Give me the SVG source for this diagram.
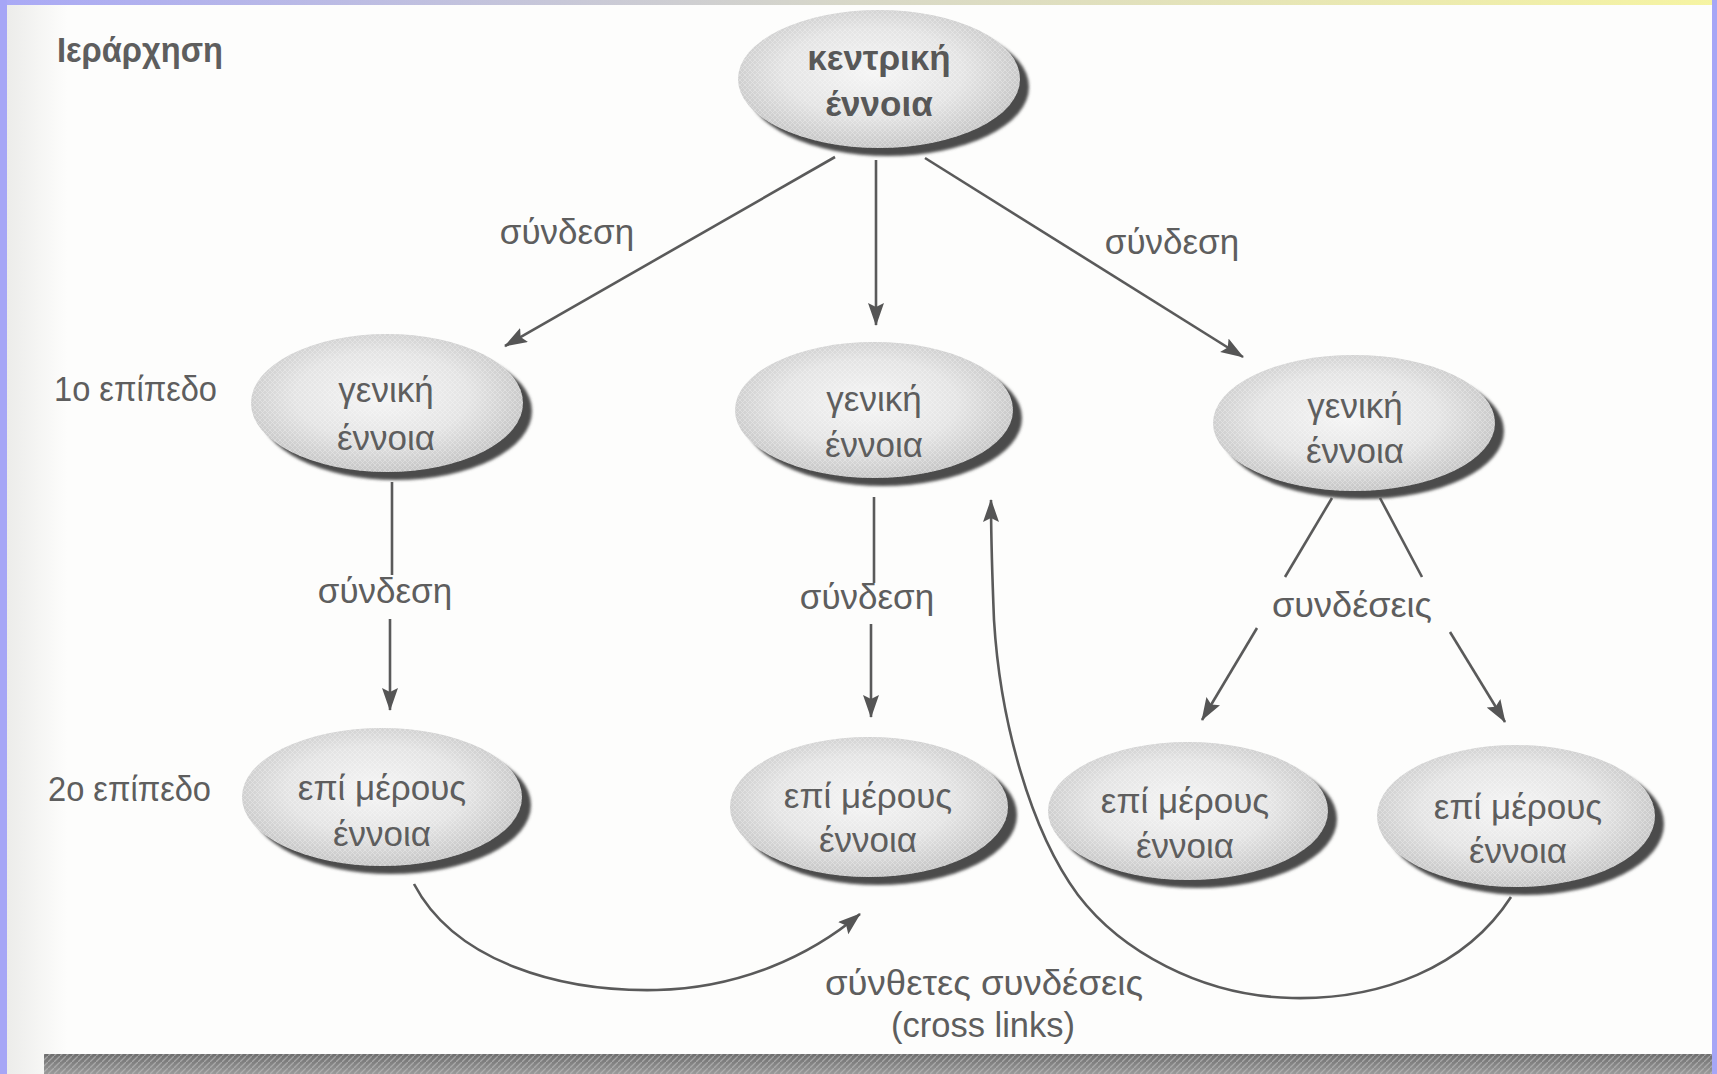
<svg xmlns="http://www.w3.org/2000/svg" width="1717" height="1074" viewBox="0 0 1717 1074">
  <defs>
    <linearGradient id="topBar" x1="0" y1="0" x2="1" y2="0">
      <stop offset="0" stop-color="#a9a9f6"/>
      <stop offset="0.5" stop-color="#d8d8c8"/>
      <stop offset="1" stop-color="#f6f4a2"/>
    </linearGradient>
    <linearGradient id="paperEdge" x1="0" y1="0" x2="1" y2="0">
      <stop offset="0" stop-color="#ececea"/>
      <stop offset="1" stop-color="#fdfdfc"/>
    </linearGradient>
    <linearGradient id="barShade" x1="0" y1="0" x2="0" y2="1">
      <stop offset="0" stop-color="#6e6e6e"/>
      <stop offset="1" stop-color="#9a9a9a"/>
    </linearGradient>
    <radialGradient id="nodeFill" cx="0.48" cy="0.45" r="0.58">
      <stop offset="0" stop-color="#f5f5f5"/>
      <stop offset="0.55" stop-color="#e4e4e4"/>
      <stop offset="1" stop-color="#c2c2c2"/>
    </radialGradient>
    <pattern id="hatch" width="5" height="5" patternUnits="userSpaceOnUse">
      <path d="M0,5 L5,0 M0,0 L5,5" stroke="#ffffff" stroke-width="0.8" opacity="0.35"/>
    </pattern>
    <pattern id="barHatch" width="6" height="6" patternUnits="userSpaceOnUse">
      <path d="M0,6 L6,0" stroke="#c0c0c0" stroke-width="1.3" opacity="0.6"/>
    </pattern>
    <filter id="soft" x="-10%" y="-10%" width="120%" height="120%">
      <feGaussianBlur stdDeviation="1.4"/>
    </filter>
    <marker id="arrow" markerUnits="userSpaceOnUse" markerWidth="26" markerHeight="18" refX="22" refY="8" orient="auto">
      <path d="M0,0 L23,8 L0,16 L4,8 z" fill="#555"/>
    </marker>
    <style>
      .shadow { fill: #4c4c4c; filter: url(#soft); }
      .body { fill: url(#nodeFill); }
      .grain { fill: url(#hatch); }
      .t { font-family: "Liberation Sans", Arial, sans-serif; font-size: 35px; fill: #5e5e5e; text-anchor: middle; }
      .bold { font-weight: bold; fill: #585858; }
      .lbl { font-family: "Liberation Sans", Arial, sans-serif; font-size: 35px; fill: #5e5e5e; }
      .edge { fill: none; stroke: #5a5a5a; stroke-width: 2.6; }
    </style>
  </defs>

  <!-- page and frame -->
  <rect width="1717" height="1074" fill="#fdfdfc"/>
  <rect x="7" y="0" width="60" height="1074" fill="url(#paperEdge)"/>
  <rect x="0" y="0" width="1717" height="5" fill="url(#topBar)"/>
  <rect x="0" y="0" width="7" height="1074" fill="#a6a6f6"/>
  <rect x="1712" y="0" width="5" height="1074" fill="#a6a6f6"/>
  <rect x="44" y="1054" width="1668" height="20" fill="url(#barShade)"/>
  <rect x="44" y="1054" width="1668" height="20" fill="url(#barHatch)"/>

  <!-- side captions -->
  <text class="lbl bold" x="57" y="62" font-size="37" textLength="166" lengthAdjust="spacingAndGlyphs">Ιεράρχηση</text>
  <text class="lbl" x="54" y="401" textLength="163" lengthAdjust="spacingAndGlyphs">1ο επίπεδο</text>
  <text class="lbl" x="48" y="801" textLength="163" lengthAdjust="spacingAndGlyphs">2ο επίπεδο</text>

  <!-- connectors -->
  <g id="connectors">
    <path class="edge" d="M835,157 L505,346" marker-end="url(#arrow)"/>
    <path class="edge" d="M876,160 L876,325" marker-end="url(#arrow)"/>
    <path class="edge" d="M925,158 L1243,357" marker-end="url(#arrow)"/>

    <path class="edge" d="M392,482 L392,575"/>
    <path class="edge" d="M390,619 L390,710" marker-end="url(#arrow)"/>

    <path class="edge" d="M874,497 L874,583"/>
    <path class="edge" d="M871,624 L871,717" marker-end="url(#arrow)"/>

    <path class="edge" d="M1332,498 L1285,577"/>
    <path class="edge" d="M1380,498 L1422,577"/>
    <path class="edge" d="M1257,628 L1202,720" marker-end="url(#arrow)"/>
    <path class="edge" d="M1450,632 L1505,722" marker-end="url(#arrow)"/>

    <!-- cross links -->
    <path class="edge" d="M414,884 C455,962 560,992 657,990 C740,988 810,956 860,914" marker-end="url(#arrow)"/>
    <path class="edge" d="M1511,897 C1465,968 1380,1000 1292,998 C1200,996 1120,950 1078,895 C1030,830 1000,720 994,620 C992,570 991,530 991,500" marker-end="url(#arrow)"/>

    <text class="t" x="567" y="244">σύνδεση</text>
    <text class="t" x="1172" y="254">σύνδεση</text>
    <text class="t" x="385" y="603">σύνδεση</text>
    <text class="t" x="867" y="609">σύνδεση</text>
    <text class="t" x="1352" y="617" textLength="160" lengthAdjust="spacingAndGlyphs">συνδέσεις</text>
    <text class="t" x="984" y="995" textLength="318" lengthAdjust="spacingAndGlyphs">σύνθετες συνδέσεις</text>
    <text class="t" x="983" y="1037" textLength="184" lengthAdjust="spacingAndGlyphs">(cross links)</text>
  </g>

  <!-- central concept -->
  <g id="node-central">
    <ellipse class="shadow" cx="888" cy="87" rx="141" ry="69"/>
    <ellipse class="body" cx="879" cy="79" rx="141" ry="69"/>
    <ellipse class="grain" cx="879" cy="79" rx="141" ry="69"/>
    <text class="t bold" x="879" y="70">κεντρική</text>
    <text class="t bold" x="879" y="116">έννοια</text>
  </g>

  <!-- level 1 -->
  <g id="node-general-1">
    <ellipse class="shadow" cx="396" cy="411" rx="136" ry="69"/>
    <ellipse class="body" cx="387" cy="403" rx="136" ry="69"/>
    <ellipse class="grain" cx="387" cy="403" rx="136" ry="69"/>
    <text class="t" x="386" y="402">γενική</text>
    <text class="t" x="386" y="450">έννοια</text>
  </g>
  <g id="node-general-2">
    <ellipse class="shadow" cx="883" cy="418" rx="139" ry="68"/>
    <ellipse class="body" cx="874" cy="410" rx="139" ry="68"/>
    <ellipse class="grain" cx="874" cy="410" rx="139" ry="68"/>
    <text class="t" x="874" y="411">γενική</text>
    <text class="t" x="874" y="457">έννοια</text>
  </g>
  <g id="node-general-3">
    <ellipse class="shadow" cx="1363" cy="431" rx="141" ry="68"/>
    <ellipse class="body" cx="1354" cy="423" rx="141" ry="68"/>
    <ellipse class="grain" cx="1354" cy="423" rx="141" ry="68"/>
    <text class="t" x="1355" y="418">γενική</text>
    <text class="t" x="1355" y="463">έννοια</text>
  </g>

  <!-- level 2 -->
  <g id="node-specific-1">
    <ellipse class="shadow" cx="391" cy="805" rx="140" ry="69"/>
    <ellipse class="body" cx="382" cy="797" rx="140" ry="69"/>
    <ellipse class="grain" cx="382" cy="797" rx="140" ry="69"/>
    <text class="t" x="382" y="800">επί μέρους</text>
    <text class="t" x="382" y="846">έννοια</text>
  </g>
  <g id="node-specific-2">
    <ellipse class="shadow" cx="878" cy="815" rx="139" ry="70"/>
    <ellipse class="body" cx="869" cy="807" rx="139" ry="70"/>
    <ellipse class="grain" cx="869" cy="807" rx="139" ry="70"/>
    <text class="t" x="868" y="808">επί μέρους</text>
    <text class="t" x="868" y="852">έννοια</text>
  </g>
  <g id="node-specific-3">
    <ellipse class="shadow" cx="1197" cy="819" rx="140" ry="69"/>
    <ellipse class="body" cx="1188" cy="811" rx="140" ry="69"/>
    <ellipse class="grain" cx="1188" cy="811" rx="140" ry="69"/>
    <text class="t" x="1185" y="813">επί μέρους</text>
    <text class="t" x="1185" y="858">έννοια</text>
  </g>
  <g id="node-specific-4">
    <ellipse class="shadow" cx="1525" cy="824" rx="139" ry="71"/>
    <ellipse class="body" cx="1516" cy="816" rx="139" ry="71"/>
    <ellipse class="grain" cx="1516" cy="816" rx="139" ry="71"/>
    <text class="t" x="1518" y="819">επί μέρους</text>
    <text class="t" x="1518" y="863">έννοια</text>
  </g>
</svg>
